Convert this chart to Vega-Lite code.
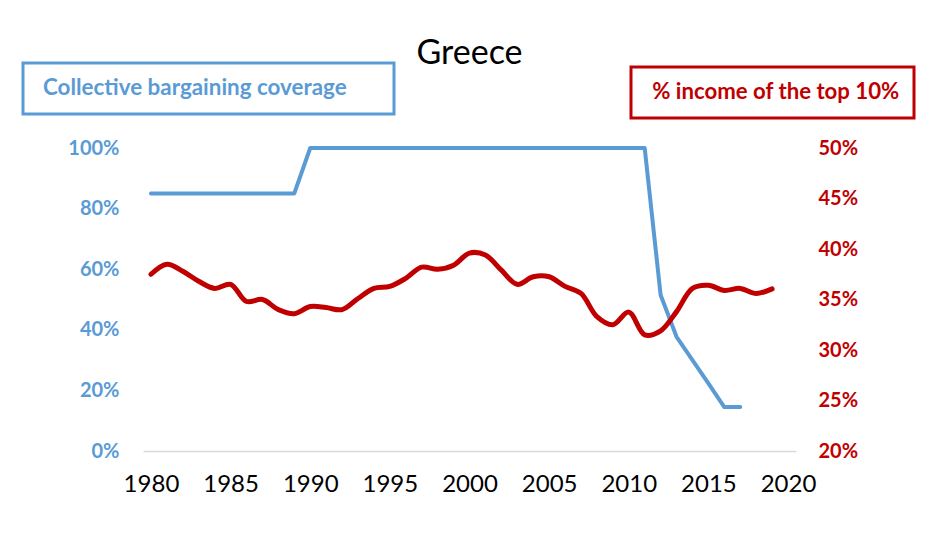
{
  "$schema": "https://vega.github.io/schema/vega-lite/v6.json",
  "width": 653,
  "height": 303,
  "autosize": {"type": "none"},
  "padding": {"left": 143, "top": 148, "right": 132, "bottom": 82},
  "background": "white",
  "title": {"text": "Greece", "font": "Lato", "fontSize": 34, "fontWeight": "normal", "color": "black", "anchor": "middle", "offset": -9},
  "config": {"view": {"stroke": null}, "axis": {"grid": false, "ticks": false}},
  "datasets": {
    "coverage": [
      {"year": 1980, "coverage": 85}, {"year": 1981, "coverage": 85}, {"year": 1982, "coverage": 85},
      {"year": 1983, "coverage": 85}, {"year": 1984, "coverage": 85}, {"year": 1985, "coverage": 85},
      {"year": 1986, "coverage": 85}, {"year": 1987, "coverage": 85}, {"year": 1988, "coverage": 85},
      {"year": 1989, "coverage": 85}, {"year": 1990, "coverage": 100}, {"year": 1991, "coverage": 100},
      {"year": 1992, "coverage": 100}, {"year": 1993, "coverage": 100}, {"year": 1994, "coverage": 100},
      {"year": 1995, "coverage": 100}, {"year": 1996, "coverage": 100}, {"year": 1997, "coverage": 100},
      {"year": 1998, "coverage": 100}, {"year": 1999, "coverage": 100}, {"year": 2000, "coverage": 100},
      {"year": 2001, "coverage": 100}, {"year": 2002, "coverage": 100}, {"year": 2003, "coverage": 100},
      {"year": 2004, "coverage": 100}, {"year": 2005, "coverage": 100}, {"year": 2006, "coverage": 100},
      {"year": 2007, "coverage": 100}, {"year": 2008, "coverage": 100}, {"year": 2009, "coverage": 100},
      {"year": 2010, "coverage": 100}, {"year": 2011, "coverage": 100}, {"year": 2012, "coverage": 51.5},
      {"year": 2013, "coverage": 37.7}, {"year": 2014, "coverage": 30}, {"year": 2015, "coverage": 22.3},
      {"year": 2016, "coverage": 14.5}, {"year": 2017, "coverage": 14.5}
    ],
    "income": [
      {"year": 1980, "top10": 37.5}, {"year": 1981, "top10": 38.5}, {"year": 1982, "top10": 37.8},
      {"year": 1983, "top10": 36.8}, {"year": 1984, "top10": 36.1}, {"year": 1985, "top10": 36.5},
      {"year": 1986, "top10": 34.8}, {"year": 1987, "top10": 35.0}, {"year": 1988, "top10": 34.0},
      {"year": 1989, "top10": 33.6}, {"year": 1990, "top10": 34.3}, {"year": 1991, "top10": 34.2},
      {"year": 1992, "top10": 34.0}, {"year": 1993, "top10": 35.1}, {"year": 1994, "top10": 36.1},
      {"year": 1995, "top10": 36.3}, {"year": 1996, "top10": 37.1}, {"year": 1997, "top10": 38.2},
      {"year": 1998, "top10": 38.0}, {"year": 1999, "top10": 38.4}, {"year": 2000, "top10": 39.6},
      {"year": 2001, "top10": 39.4}, {"year": 2002, "top10": 37.9}, {"year": 2003, "top10": 36.5},
      {"year": 2004, "top10": 37.25}, {"year": 2005, "top10": 37.25}, {"year": 2006, "top10": 36.3},
      {"year": 2007, "top10": 35.6}, {"year": 2008, "top10": 33.3}, {"year": 2009, "top10": 32.5},
      {"year": 2010, "top10": 33.75}, {"year": 2011, "top10": 31.5}, {"year": 2012, "top10": 31.9},
      {"year": 2013, "top10": 33.8}, {"year": 2014, "top10": 36.1}, {"year": 2015, "top10": 36.4},
      {"year": 2016, "top10": 35.9}, {"year": 2017, "top10": 36.1}, {"year": 2018, "top10": 35.6},
      {"year": 2019, "top10": 36.05}
    ]
  },
  "layer": [
    {
      "data": {"name": "coverage"},
      "mark": {"type": "line", "strokeWidth": 4, "strokeCap": "round", "strokeJoin": "round"},
      "encoding": {
        "x": {
          "field": "year", "type": "quantitative",
          "scale": {"domain": [1979.5, 2020.5], "nice": false, "zero": false},
          "axis": {
            "title": null, "values": [1980, 1985, 1990, 1995, 2000, 2005, 2010, 2015, 2020],
            "format": "d", "labelFont": "Lato", "labelFontSize": 24, "labelColor": "black",
            "labelPadding": 21, "labelFlush": false, "domainColor": "#D9D9D9", "domainWidth": 1.5
          }
        },
        "y": {
          "field": "coverage", "type": "quantitative",
          "scale": {"domain": [0, 100], "nice": false},
          "axis": {
            "orient": "left", "title": null, "values": [0, 20, 40, 60, 80, 100],
            "labelExpr": "datum.value + '%'", "labelFont": "Lato", "labelFontSize": 20,
            "labelFontWeight": "bold", "labelColor": "#5B9BD5", "labelPadding": 24, "domain": false
          }
        },
        "color": {
          "datum": "Collective bargaining coverage", "type": "nominal",
          "scale": {"range": ["#5B9BD5"]},
          "legend": {
            "orient": "none", "legendX": -120, "legendY": -85,
            "title": "Collective bargaining coverage", "titleOrient": "left", "titlePadding": 11,
            "titleFont": "Lato", "titleFontSize": 22.4, "titleFontWeight": "bold", "titleColor": "#5B9BD5",
            "titleLimit": 600,
            "symbolSize": 0, "symbolOpacity": 0, "symbolStrokeWidth": 0,
            "labelExpr": "''", "labelFontSize": 22, "labelOffset": 6, "padding": 14, "strokeColor": "#5B9BD5",
            "encode": {
              "legend": {"update": {"strokeWidth": {"value": 3}}},
              "title": {"update": {"dx": {"value": 6}}}
            }
          }
        }
      }
    },
    {
      "data": {"name": "income"},
      "mark": {"type": "line", "strokeWidth": 5, "strokeCap": "round", "strokeJoin": "round", "interpolate": "catmull-rom"},
      "encoding": {
        "x": {"field": "year", "type": "quantitative"},
        "y": {
          "field": "top10", "type": "quantitative",
          "scale": {"domain": [20, 50], "nice": false, "zero": false},
          "axis": {
            "orient": "right", "title": null, "values": [20, 25, 30, 35, 40, 45, 50],
            "labelExpr": "datum.value + '%'", "labelFont": "Lato", "labelFontSize": 20,
            "labelFontWeight": "bold", "labelColor": "#C00000", "labelPadding": 22, "domain": false
          }
        },
        "color": {
          "datum": "% income of the top 10%", "type": "nominal",
          "scale": {"range": ["#C00000"]},
          "legend": {
            "orient": "none", "legendX": 488, "legendY": -81, "title": null,
            "symbolSize": 0, "symbolOpacity": 0, "symbolStrokeWidth": 0,
            "labelFont": "Lato", "labelFontSize": 22.2, "labelFontWeight": "bold", "labelColor": "#C00000",
            "labelOffset": -15, "padding": 14, "strokeColor": "#C00000",
            "labelLimit": 500,
            "encode": {"legend": {"update": {"strokeWidth": {"value": 3}}}}
          }
        }
      }
    }
  ],
  "resolve": {"scale": {"y": "independent", "color": "independent"}}
}
